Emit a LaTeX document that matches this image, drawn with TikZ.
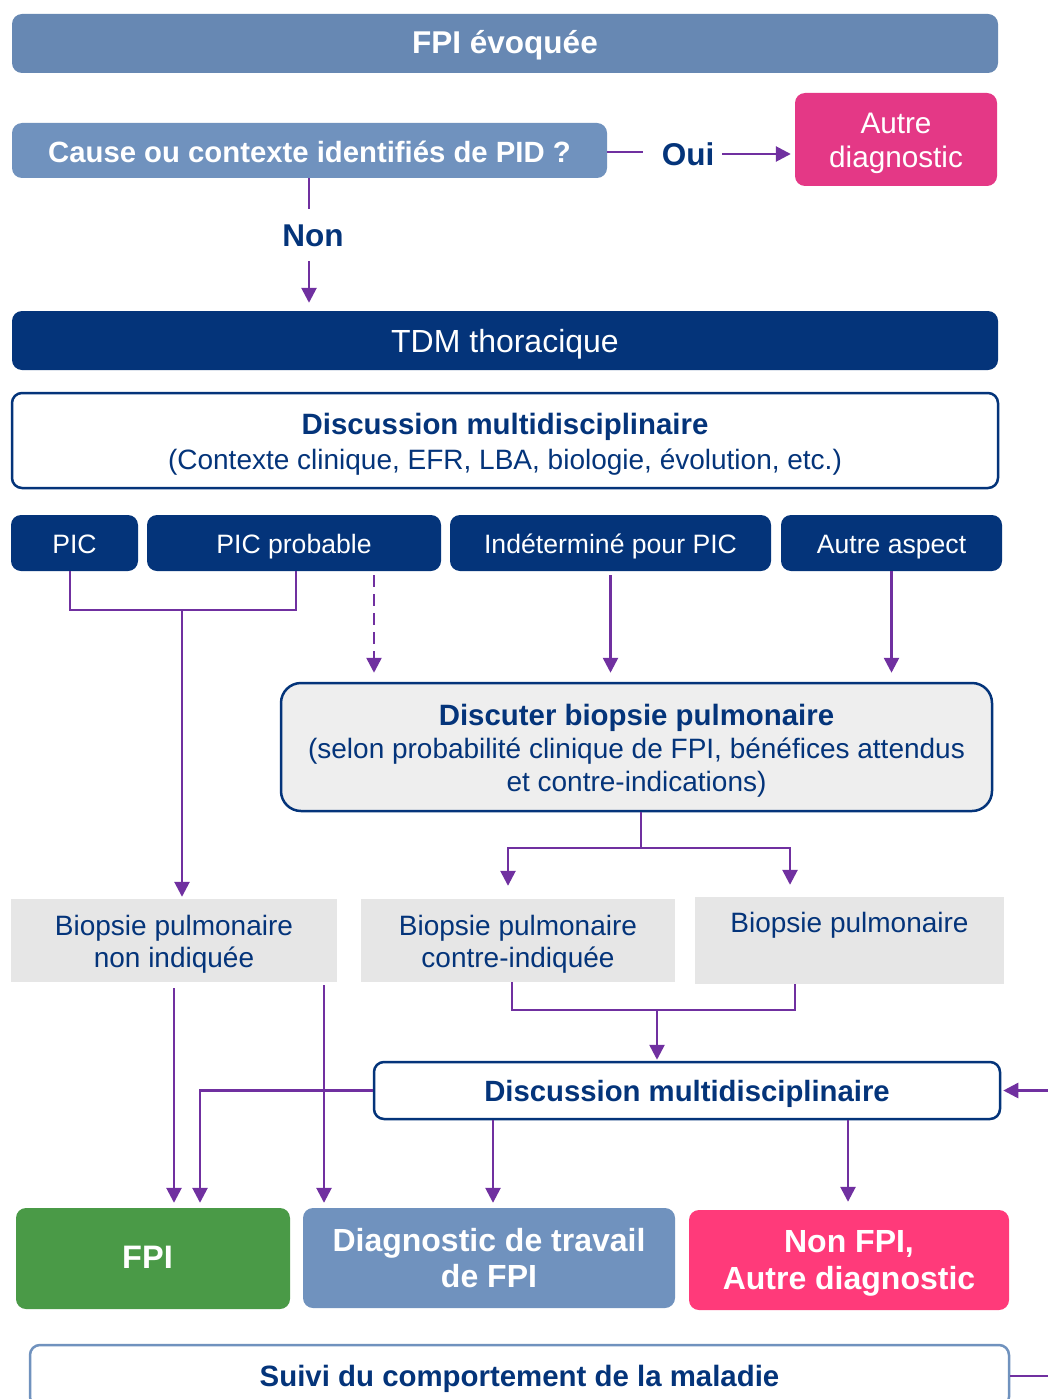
\documentclass[tikz,border=0pt]{standalone}
\usepackage{fontspec}
\setmainfont{Liberation Sans}
\usetikzlibrary{arrows.meta}
\definecolor{navy}{RGB}{4,52,122}
\definecolor{steel}{RGB}{103,136,179}
\definecolor{steelb}{RGB}{112,146,190}
\definecolor{magentaA}{RGB}{228,56,134}
\definecolor{roseA}{RGB}{255,58,122}
\definecolor{greenA}{RGB}{74,154,71}
\definecolor{purp}{RGB}{112,48,160}
\definecolor{greyA}{RGB}{230,230,230}
\definecolor{greyB}{RGB}{238,238,238}
\newcommand{\fsz}[2]{\fontsize{#1}{#2}\selectfont}
\begin{document}
\begin{tikzpicture}[x=1pt,y=-1pt,
  box/.style={rectangle, inner sep=0pt},
  rbox/.style={box, rounded corners=10pt},
  txt/.style={inner sep=0pt, align=center},
  conn/.style={draw=purp, line width=2.6pt},
  arr/.style={conn, -{Triangle[length=15pt,width=15pt]}},
  lab/.style={inner sep=0pt, text=navy, font=\fsz{31.5}{34}\bfseries}
]
\useasboundingbox (0,0) rectangle (1048,1399);
\fill[white] (0,0) rectangle (1048,1399);

% top
\node[rbox, fill=steel, minimum width=986pt, minimum height=59pt] (top) at (505,43.5) {};
\node[txt, text=white, font=\fsz{31.5}{34}\bfseries] at ([yshift=-2pt]top.center) {FPI évoquée};
\node[rbox, fill=steelb, minimum width=595pt, minimum height=55pt] (cause) at (309.5,150.5) {};
\node[txt, text=white, font=\fsz{29.3}{33}\bfseries] at ([yshift=-1pt]cause.center) {Cause ou contexte identifiés de PID ?};
\node[rbox, fill=magentaA, minimum width=202pt, minimum height=93pt] (autre) at (896,139.5) {};
\node[txt, text=white, font=\fsz{29.7}{34}] at ([yshift=-4pt]autre.center) {Autre\\diagnostic};
\node[lab] (oui) at (688,154) {Oui};
\node[lab] (non) at (313,236) {Non};
\node[rbox, fill=navy, minimum width=986pt, minimum height=59pt] (tdm) at (505,340.5) {};
\node[txt, text=white, font=\fsz{32}{35}] at ([yshift=-4pt]tdm.center) {TDM thoracique};
\node[rbox, draw=navy, line width=2.5pt, fill=white, minimum width=986pt, minimum height=95pt] (dmd1) at (505,440.5) {};
\node[txt, text=navy, font=\fsz{28}{35}] at ([yshift=-3.5pt]dmd1.center) {{\fsz{29.4}{35}\bfseries Discussion multidisciplinaire}\\(Contexte clinique, EFR, LBA, biologie, évolution, etc.)};

% row of CT patterns
\tikzset{pat/.style={rbox, fill=navy, minimum height=56pt},
  patt/.style={txt, text=white, font=\fsz{26.6}{30}}}
\node[pat, minimum width=127pt] (pic) at (74.5,543) {};
\node[patt] at ([yshift=-1pt]pic.center) {PIC};
\node[pat, minimum width=294pt] (picp) at (294,543) {};
\node[patt] at ([yshift=-4pt]picp.center) {PIC probable};
\node[pat, minimum width=321pt] (ind) at (610.5,543) {};
\node[patt] at ([yshift=-3pt]ind.center) {Indéterminé pour PIC};
\node[pat, minimum width=221pt] (aut) at (891.5,543) {};
\node[patt] at ([yshift=-4pt]aut.center) {Autre aspect};

\node[box, rounded corners=20pt, draw=navy, line width=2.5pt, fill=greyB, minimum width=711pt, minimum height=128pt] (disc) at (636.5,747) {};
\node[txt, text=navy, font=\fsz{28}{33}] at ([yshift=-3.5pt]disc.center) {{\fsz{29.4}{33}\bfseries Discuter biopsie pulmonaire}\\(selon probabilité clinique de FPI, bénéfices attendus\\et contre-indications)};

\tikzset{bio/.style={box, fill=greyA}, biot/.style={txt, text=navy, font=\fsz{28}{32}}}
\node[bio, minimum width=326pt, minimum height=83pt] (b1) at (174,940.5) {};
\node[biot] at ([yshift=-4pt]b1.center) {Biopsie pulmonaire\\non indiquée};
\node[bio, minimum width=314pt, minimum height=83pt] (b2) at (518,940.5) {};
\node[biot] at ([yshift=-4pt]b2.center) {Biopsie pulmonaire\\contre-indiquée};
\node[bio, minimum width=309pt, minimum height=87pt] (b3) at (849.5,940.5) {};
\node[biot] at (849.5,925) {Biopsie pulmonaire};

\node[rbox, draw=navy, line width=2.5pt, fill=white, minimum width=626pt, minimum height=57pt] (dmd2) at (687,1090.5) {};
\node[txt, text=navy, font=\fsz{29.3}{33}\bfseries] at ([yshift=-3pt]dmd2.center) {Discussion multidisciplinaire};

\node[rbox, fill=greenA, minimum width=274pt, minimum height=101pt] (fpi) at (153,1258.5) {};
\node[txt, text=white, font=\fsz{32.5}{36}\bfseries] at ([xshift=-5.5pt,yshift=1pt]fpi.center) {FPI};
\node[rbox, fill=steelb, minimum width=372pt, minimum height=100pt] (dtr) at (489,1258) {};
\node[txt, text=white, font=\fsz{32}{36}\bfseries] at (dtr.center) {Diagnostic de travail\\de FPI};
\node[rbox, fill=roseA, minimum width=320pt, minimum height=100pt] (nfpi) at (849,1260) {};
\node[txt, text=white, font=\fsz{32}{37}\bfseries] at ([yshift=-3.5pt]nfpi.center) {Non FPI,\\Autre diagnostic};

\node[rbox, draw=steelb, line width=2.5pt, fill=white, minimum width=979pt, minimum height=62pt] (suivi) at (519.5,1376) {};
\node[txt, text=navy, font=\fsz{29.4}{33}\bfseries] at ([yshift=-3pt]suivi.center) {Suivi du comportement de la maladie};

% connectors
\draw[conn] (cause.east |- 0,152) -- ([xshift=-19pt]oui.west |- 0,152);
\draw[arr, shorten >=4pt] ([xshift=8pt]oui.east) -- (autre.west |- oui.east);
\draw[conn] ([xshift=-0.5pt]cause.south) -- ([xshift=-4pt,yshift=16pt]non.north);
\draw[arr, shorten >=8pt] ([xshift=-4pt,yshift=-14pt]non.south) -- ([xshift=-4pt]non.south |- tdm.north);

\coordinate (j1) at (182,610);
\draw[conn] ([xshift=-4.5pt]pic.south) |- (j1) -| ([xshift=2pt]picp.south);
\draw[arr, shorten >=2pt] (j1) -- (j1 |- b1.north);
\draw[arr, dash pattern=on 12pt off 7pt, shorten <=4pt, shorten >=9pt] ([xshift=80pt]picp.south) -- ([xshift=80pt]picp.south |- disc.north);
\draw[arr, shorten <=4pt, shorten >=9pt] (ind.south) -- (ind.south |- disc.north);
\draw[arr, shorten >=9pt] (aut.south) -- (aut.south |- disc.north);

\coordinate (j2) at (641,848);
\draw[conn] (disc.south -| j2) -- (j2);
\draw[arr, shorten >=13pt] (j2) -| ([xshift=-10pt]b2.north);
\draw[arr, shorten >=12pt] (j2) -| ([xshift=-59.5pt]b3.north);

\coordinate (j3) at (657,1010);
\draw[conn] ([xshift=-6pt]b2.south) |- (j3) -| ([xshift=-54.5pt]b3.south);
\draw[arr, shorten >=1pt] (j3) -- (j3 |- dmd2.north);

\draw[arr, shorten >=5pt] (dmd2.west) -| ([xshift=47pt]fpi.north);
\draw[arr, shorten <=6pt, shorten >=5pt] (b1.south) -- (b1.south |- fpi.north);
\draw[arr, shorten <=3pt, shorten >=5pt] ([xshift=150pt]b1.south) -- ([xshift=150pt]b1.south |- dtr.north);
\draw[arr, shorten >=5pt] ([xshift=-194pt]dmd2.south) -- ([xshift=-194pt]dmd2.south |- dtr.north);
\draw[arr, shorten >=8pt] ([xshift=161pt]dmd2.south) -- ([xshift=161pt]dmd2.south |- nfpi.north);
\draw[arr, shorten >=2pt] (suivi.east) -- ++(70,0) |- (dmd2.east);
\end{tikzpicture}
\end{document}
